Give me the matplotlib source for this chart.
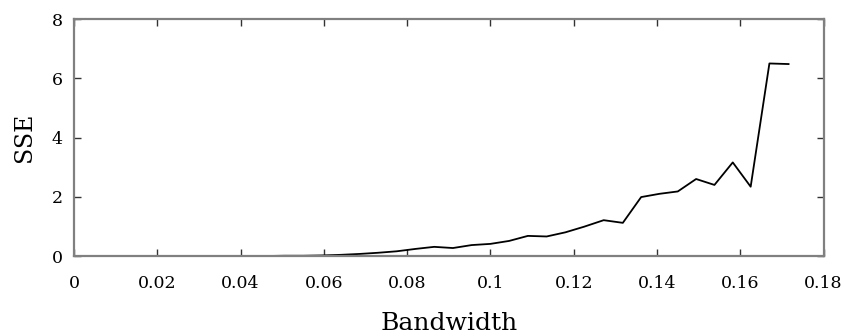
import matplotlib.pyplot as plt

# bandwidth vs sum of squared errors
bandwidth = [0.0325, 0.0370, 0.0415, 0.0460, 0.0505, 0.0550, 0.0595, 0.0640,
             0.0685, 0.0730, 0.0775, 0.0820, 0.0865, 0.0910, 0.0955, 0.1000,
             0.1045, 0.1090, 0.1135, 0.1180, 0.1225, 0.1272, 0.1318, 0.1362,
             0.1406, 0.1450, 0.1494, 0.1538, 0.1582, 0.1625, 0.1670, 0.1716]
sse = [0.00, 0.00, 0.00, 0.00, 0.01, 0.01, 0.02, 0.04,
       0.07, 0.11, 0.16, 0.24, 0.31, 0.27, 0.37, 0.41,
       0.51, 0.68, 0.66, 0.80, 0.99, 1.21, 1.12, 1.99,
       2.10, 2.18, 2.60, 2.40, 3.16, 2.34, 6.50, 6.48]

xticks = [0, 0.02, 0.04, 0.06, 0.08, 0.1, 0.12, 0.14, 0.16, 0.18]
xticklabels = ['0', '0.02', '0.04', '0.06', '0.08', '0.1', '0.12', '0.14', '0.16', '0.18']
yticks = [0, 2, 4, 6, 8]

plt.rcParams['font.family'] = ['DejaVu Serif']

fig = plt.figure(figsize=(8.45, 3.36), dpi=100)
ax = fig.add_axes([0.0876, 0.238, 0.8870, 0.7054])

ax.plot(bandwidth, sse, color='black', lw=1.3)

ax.set_xlim(0, 0.18)
ax.set_ylim(0, 8)
ax.set_xticks(xticks)
ax.set_xticklabels(xticklabels)
ax.set_yticks(yticks)
ax.tick_params(direction='in', top=True, right=True, length=5, width=1,
               color='#333333', labelsize=12.5)
ax.tick_params(axis='x', pad=14)
ax.tick_params(axis='y', pad=8)
for s in ax.spines.values():
    s.set_color('#808080')
    s.set_linewidth(1.6)

ax.set_xlabel('Bandwidth', fontsize=18, va='center')
ax.xaxis.set_label_coords(0.5, -0.285)
ax.set_ylabel('SSE', fontsize=17, va='center')
ax.yaxis.set_label_coords(-0.066, 0.5)

fig.savefig('out.png', dpi=100, facecolor='white')
